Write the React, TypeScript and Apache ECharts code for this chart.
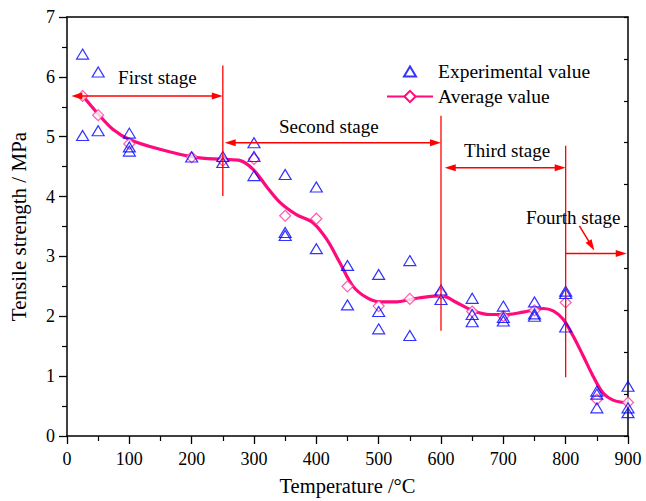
import React, { useEffect, useRef } from "react";
import * as echarts from "echarts";

// ---- data ----
const experimental: [number, number][] = [
  [25, 6.38], [25, 5.02],
  [50, 6.08], [50, 5.1],
  [100, 5.06], [100, 4.83], [100, 4.76],
  [200, 4.66],
  [250, 4.67], [250, 4.57],
  [300, 4.9], [300, 4.67], [300, 4.35],
  [350, 4.37], [350, 3.4], [350, 3.35],
  [400, 4.16], [400, 3.13],
  [450, 2.85], [450, 2.19],
  [500, 2.7], [500, 2.08], [500, 1.79],
  [550, 2.93], [550, 1.68],
  [600, 2.44], [600, 2.28],
  [650, 2.3], [650, 2.03], [650, 1.91],
  [700, 2.17], [700, 1.98], [700, 1.92],
  [750, 2.24], [750, 2.04], [750, 2.0],
  [800, 2.42], [800, 2.38], [800, 1.82],
  [850, 0.75], [850, 0.7], [850, 0.47],
  [900, 0.83], [900, 0.47], [900, 0.39],
];

const avgTemps = [25, 50, 100, 200, 250, 300, 350, 400, 450, 500, 550, 600, 650, 700, 750, 800, 850, 900];
const avgValues = [5.68, 5.36, 4.88, 4.66, 4.6, 4.63, 3.68, 3.63, 2.5, 2.17, 2.29, 2.38, 2.08, 2.0, 2.1, 2.23, 0.61, 0.56];

const fitTemps = [25, 50, 74, 101, 149, 203, 251, 278, 299, 320, 342, 368, 395, 417, 438, 459, 481, 502, 529, 550, 566, 601, 625, 652, 679, 705, 732, 764, 780, 796, 812, 828, 844, 860, 876, 892, 900];
const fitValues = [5.69, 5.38, 5.12, 4.95, 4.79, 4.66, 4.62, 4.6, 4.45, 4.17, 3.9, 3.7, 3.56, 3.28, 2.89, 2.5, 2.31, 2.24, 2.24, 2.28, 2.31, 2.34, 2.23, 2.09, 2.03, 2.03, 2.07, 2.13, 2.09, 1.95, 1.67, 1.34, 1.0, 0.72, 0.6, 0.56, 0.55];

// stage boundaries: [temperature, bottom, top]
const boundaries: [number, number, number][] = [
  [250, 4.01, 6.19],
  [600, 1.76, 5.35],
  [800, 0.98, 4.85],
];
// stage arrows: [label, labelX, labelY, arrowY, fromX, toX, headAtFrom, headAtTo]
const stages: [string, number, number, number, number, number, boolean, boolean][] = [
  ["First stage", 145, 5.99, 5.68, 7, 250, true, true],
  ["Second stage", 420, 5.17, 4.9, 253, 600, true, true],
  ["Third stage", 706, 4.77, 4.48, 606, 800, true, true],
  ["Fourth stage", 812, 3.65, 3.05, 800, 898, false, true],
];
// pointer from "Fourth stage" label to its arrow: [x1, y1, x2, y2]
const pointer: [number, number, number, number] = [822, 3.51, 846, 3.1];

const FONT = "Times New Roman, Liberation Serif, DejaVu Serif, serif";
const RED = "#ff0000";
const PINK = "#ff0a7c";
const BLUE = "#0000ff";
// legend icon: a 12x10 triangle centred in a 45x14 box (move-to points fix the box)
const TRI_ICON = "path://M0,0M45,14M16.5,12L22.5,2L28.5,12Z";

export default function App() {
  const ref = useRef<HTMLDivElement>(null);
  useEffect(() => {
    if (!ref.current) return;
    const chart = echarts.init(ref.current, null, { renderer: "svg" });
    const option: any = {
      animation: false,
      backgroundColor: "#fff",
      textStyle: { fontFamily: FONT },
      grid: { left: 67, right: 18, top: 17, bottom: 64, containLabel: false },
      legend: {
        orient: "vertical",
        left: 386,
        top: 61.5,
        padding: 0,
        itemWidth: 46,
        itemHeight: 14,
        itemGap: 5,
        textStyle: { fontFamily: FONT, fontSize: 19.5, color: "#000", lineHeight: 20 },
        data: [
          { name: "Experimental value", icon: TRI_ICON },
          { name: "Average value" },
        ],
      },
      xAxis: [
        {
          type: "value",
          min: 0,
          max: 900,
          interval: 100,
          position: "bottom",
          name: "Temperature /°C",
          nameLocation: "middle",
          nameGap: 39,
          nameTextStyle: { fontFamily: FONT, fontSize: 20.5, color: "#000" },
          axisLine: { show: true, onZero: false, lineStyle: { color: "#000", width: 1.5 } },
          axisTick: { show: true, inside: false, length: 8, lineStyle: { color: "#000", width: 1.3 } },
          minorTick: { show: true, splitNumber: 2, length: 5, lineStyle: { color: "#000", width: 1.2 } },
          axisLabel: { fontFamily: FONT, fontSize: 18, color: "#000", margin: 14 },
          splitLine: { show: false },
        },
        {
          type: "value",
          min: 0,
          max: 900,
          position: "top",
          axisLine: { show: true, onZero: false, lineStyle: { color: "#000", width: 1.5 } },
          axisTick: { show: false },
          axisLabel: { show: false },
          splitLine: { show: false },
        },
      ],
      yAxis: [
        {
          type: "value",
          min: 0,
          max: 7,
          interval: 1,
          position: "left",
          name: "Tensile strength / MPa",
          nameLocation: "middle",
          nameGap: 38,
          nameTextStyle: { fontFamily: FONT, fontSize: 21, color: "#000" },
          axisLine: { show: true, onZero: false, lineStyle: { color: "#000", width: 1.5 } },
          axisTick: { show: true, inside: false, length: 8, lineStyle: { color: "#000", width: 1.3 } },
          minorTick: { show: true, splitNumber: 2, length: 5, lineStyle: { color: "#000", width: 1.2 } },
          axisLabel: { fontFamily: FONT, fontSize: 18, color: "#000", margin: 12 },
          splitLine: { show: false },
        },
        {
          type: "value",
          min: 0,
          max: 7,
          interval: 0.7,
          position: "right",
          axisLine: { show: true, onZero: false, lineStyle: { color: "#000", width: 1.5 } },
          axisTick: { show: true, inside: true, length: 4, lineStyle: { color: "#000", width: 1.2 } },
          axisLabel: { show: false },
          splitLine: { show: false },
        },
      ],
      series: [
        {
          name: "Average value",
          type: "line",
          smooth: 0.35,
          showSymbol: false,
          symbol: "diamond",
          symbolSize: 11,
          itemStyle: { color: "#fff", borderColor: PINK, borderWidth: 1.2 },
          lineStyle: { color: PINK, width: 3.2 },
          data: fitTemps.map((t, i) => [t, fitValues[i]]),
          z: 2,
          silent: true,
        },
        {
          name: "avg-points",
          type: "scatter",
          symbol: "diamond",
          symbolSize: 11,
          itemStyle: { color: "#fff", borderColor: "#ff3399", borderWidth: 1.2 },
          data: avgTemps.map((t, i) => [t, avgValues[i]]),
          z: 3,
        },
        {
          name: "Experimental value",
          type: "scatter",
          symbol: "triangle",
          symbolSize: [12, 10],
          itemStyle: { color: "rgba(0,0,0,0)", borderColor: BLUE, borderWidth: 1.2 },
          data: experimental,
          z: 4,
        },
      ],
    };
    chart.setOption(option);

    const px = (x: number, y: number) =>
      chart.convertToPixel({ xAxisIndex: 0, yAxisIndex: 0 }, [x, y]) as number[];
    const HL = 11;
    const HW = 3.5;
    const head = (tip: number[], from: number[]) => {
      const dx = tip[0] - from[0];
      const dy = tip[1] - from[1];
      const d = Math.hypot(dx, dy) || 1;
      const ux = dx / d;
      const uy = dy / d;
      const bx = tip[0] - ux * HL;
      const by = tip[1] - uy * HL;
      return {
        type: "polygon",
        silent: true,
        shape: { points: [tip, [bx - uy * HW, by + ux * HW], [bx + uy * HW, by - ux * HW]] },
        style: { fill: RED },
        z: 100,
      };
    };
    const arrow = (a: number[], b: number[], ha: boolean, hb: boolean) => {
      const dx = b[0] - a[0];
      const dy = b[1] - a[1];
      const d = Math.hypot(dx, dy) || 1;
      const ux = dx / d;
      const uy = dy / d;
      const s = ha ? [a[0] + ux * HL * 0.8, a[1] + uy * HL * 0.8] : a;
      const e = hb ? [b[0] - ux * HL * 0.8, b[1] - uy * HL * 0.8] : b;
      const els: any[] = [
        {
          type: "line",
          silent: true,
          shape: { x1: s[0], y1: s[1], x2: e[0], y2: e[1] },
          style: { stroke: RED, lineWidth: 1.5 },
          z: 100,
        },
      ];
      if (ha) els.push(head(a, b));
      if (hb) els.push(head(b, a));
      return els;
    };

    const graphics: any[] = [];
    boundaries.forEach(([t, lo, hi]) => {
      const p1 = px(t, lo);
      const p2 = px(t, hi);
      graphics.push({
        type: "line",
        silent: true,
        shape: { x1: p1[0], y1: p1[1], x2: p2[0], y2: p2[1] },
        style: { stroke: RED, lineWidth: 1.3 },
        z: 100,
      });
    });
    stages.forEach(([label, lx, ly, ay, fx, tx, hf, ht]) => {
      graphics.push(...arrow(px(fx, ay), px(tx, ay), hf, ht));
      const lp = px(lx, ly);
      graphics.push({
        type: "text",
        silent: true,
        x: lp[0],
        y: lp[1],
        style: {
          text: label,
          fontFamily: FONT,
          fontSize: 19,
          fill: "#000",
          align: "center",
          verticalAlign: "middle",
          textAlign: "center",
          textVerticalAlign: "middle",
        },
        z: 100,
      });
    });
    graphics.push(...arrow(px(pointer[0], pointer[1]), px(pointer[2], pointer[3]), false, true));
    chart.setOption({ graphic: graphics });

    return () => chart.dispose();
  }, []);
  return (
    <div
      ref={ref}
      style={{ position: "fixed", left: 0, top: 0, width: 646, height: 501, background: "#fff" }}
    />
  );
}
